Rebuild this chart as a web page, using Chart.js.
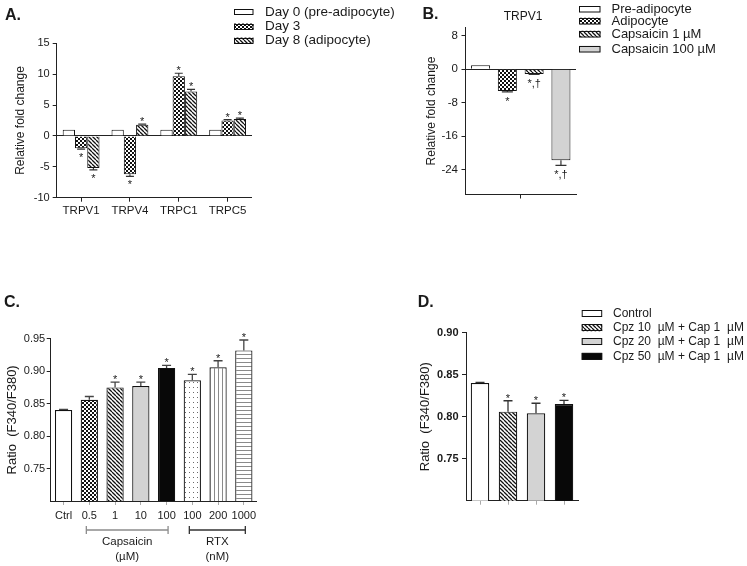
<!DOCTYPE html>
<html><head><meta charset="utf-8">
<script src="https://cdn.jsdelivr.net/npm/chart.js@4.4.1/dist/chart.umd.min.js"></script>
<style>
html,body{margin:0;padding:0;background:#fff;}
#wrap{position:relative;width:747px;height:566px;overflow:hidden;background:#fff;}
canvas{position:absolute;left:0;top:0;}
</style></head>
<body><div id="wrap">
<canvas id="cA" width="747" height="566"></canvas>
<canvas id="cB" width="747" height="566"></canvas>
<canvas id="cC" width="747" height="566"></canvas>
<canvas id="cD" width="747" height="566"></canvas>
</div>
<script>
// ---------- DATA ----------
const catsA = ['TRPV1', 'TRPV4', 'TRPC1', 'TRPC5'];
const seriesA = ['Day 0 (pre-adipocyte)', 'Day 3', 'Day 8 (adipocyte)'];
const day0 = [1, 1, 1, 1];
const day3 = [-2.0, -6.2, 9.65, 2.5];
const day8 = [-5.2, 1.8, 7.2, 2.75];
const errDay0 = [0, 0, 0, 0];
const errDay3 = [0.15, 0.35, 0.5, 0.15];
const errDay8 = [0.3, 0.12, 0.33, 0.12];
const sigDay0 = ['', '', '', ''];
const sigDay3 = ['*', '*', '*', '*'];
const sigDay8 = ['*', '*', '*', '*'];
const ticksA = [15, 10, 5, 0, -5, -10];

const catsB = ['TRPV1'];
const seriesB = ['Pre-adipocyte', 'Adipocyte', 'Capsaicin 1 \u00b5M', 'Capsaicin 100 \u00b5M'];
const valuesB = [1, -5.2, -1.1, -21.8];
const errB = [0, 0.2, 0.1, 1.2];
const sigB = ['', '*', '*,\u2020', '*,\u2020'];
const ticksB = [8, 0, -8, -16, -24];

const catsC = ['Ctrl', '0.5', '1', '10', '100', '100', '200', '1000'];
const valuesC = [0.840, 0.856, 0.875, 0.877, 0.905, 0.886, 0.906, 0.932];
const errC = [0.001, 0.005, 0.008, 0.006, 0.004, 0.009, 0.010, 0.016];
const sigC = ['', '', '*', '*', '*', '*', '*', '*'];
const ticksC = [0.95, 0.90, 0.85, 0.80, 0.75];
const groupNamesC = ['Capsaicin', 'RTX'];
const groupUnitsC = ['(\u00b5M)', '(nM)'];
const groupStartC = [1, 5];
const groupEndC = [4, 7];

const catsD = ['Control', 'Cpz 10  \u00b5M + Cap 1  \u00b5M', 'Cpz 20  \u00b5M + Cap 1  \u00b5M', 'Cpz 50  \u00b5M + Cap 1  \u00b5M'];
const valuesD = [0.840, 0.806, 0.804, 0.815];
const errD = [0.0008, 0.013, 0.012, 0.0045];
const sigD = ['', '*', '*', '*'];
const ticksD = [0.90, 0.85, 0.80, 0.75];

// ---------- STYLE ----------
const FAM = "'Liberation Sans', Arial, Helvetica, sans-serif";
Chart.defaults.font.family = FAM;
Chart.defaults.color = '#1a1a1a';
const AX = '#222';
const TXT = '#1a1a1a';

function makeFill(kind) {
  if (kind === 'white') return '#ffffff';
  if (kind === 'gray') return '#d3d3d3';
  if (kind === 'black') return '#080808';
  const c = document.createElement('canvas');
  const g = c.getContext('2d');
  let w = 4, h = 4;
  if (kind === 'dots') { w = 4; h = 5; }
  c.width = w; c.height = h;
  g.fillStyle = '#fff'; g.fillRect(0, 0, w, h);
  if (kind === 'checker') { g.fillStyle = '#111'; g.fillRect(0, 0, 2, 2); g.fillRect(2, 2, 2, 2); }
  if (kind === 'hatch') {
    g.strokeStyle = '#111'; g.lineWidth = 1.3; g.beginPath();
    for (const k of [-4, 0, 4]) { g.moveTo(k, 0); g.lineTo(k + 4, 4); }
    g.stroke();
  }
  if (kind === 'dots') { g.fillStyle = '#6a6a6a'; g.fillRect(1, 2, 1, 1); }
  if (kind === 'vlines') { g.fillStyle = '#8a8a8a'; g.fillRect(2, 0, 1, h); }
  if (kind === 'hlines') { g.fillStyle = '#8a8a8a'; g.fillRect(0, 2, w, 1); }
  return document.createElement('canvas').getContext('2d').createPattern(c, 'repeat');
}

// ---------- PLUGINS ----------
const errPlugin = {
  id: 'errbars',
  afterDatasetsDraw(chart, args, o) {
    const ctx = chart.ctx, ys = chart.scales.y;
    ctx.save();
    chart.data.datasets.forEach((ds, di) => {
      const meta = chart.getDatasetMeta(di);
      meta.data.forEach((bar, i) => {
        const v = ds.data[i], e = ds.errors[i], s = ds.sig[i];
        const up = v >= o.base;
        const yEnd = ys.getPixelForValue(up ? v + e : v - e);
        if (e > 0) {
          ctx.strokeStyle = o.color; ctx.lineWidth = o.width;
          ctx.beginPath();
          ctx.moveTo(bar.x, bar.y); ctx.lineTo(bar.x, yEnd);
          ctx.moveTo(bar.x - o.cap / 2, yEnd); ctx.lineTo(bar.x + o.cap / 2, yEnd);
          ctx.stroke();
        }
        if (s) {
          ctx.fillStyle = TXT; ctx.font = o.font; ctx.textAlign = 'center'; ctx.textBaseline = 'alphabetic';
          ctx.fillText(s, bar.x, up ? yEnd + o.upShift : yEnd + o.downShift);
        }
      });
    });
    ctx.restore();
  }
};

const panelPlugin = {
  id: 'panel',
  afterDraw(chart, args, o) {
    const ctx = chart.ctx;
    ctx.save();
    if (o.legend) {
      const L = o.legend;
      let items;
      if (L.source === 'datasets') items = chart.data.datasets.map(d => ({ label: d.label, fill: d.backgroundColor }));
      else items = chart.data.labels.map((l, i) => ({ label: l, fill: chart.data.datasets[0].backgroundColor[i] }));
      items.forEach((it, i) => {
        const y = L.ys[i];
        const bh = L.boxH;
        ctx.fillStyle = it.fill;
        ctx.fillRect(L.x, y - bh / 2, L.boxW, bh);
        ctx.strokeStyle = '#111'; ctx.lineWidth = 1;
        ctx.strokeRect(L.x + 0.5, Math.round(y - bh / 2) + 0.5, L.boxW - 1, bh - 1);
        ctx.fillStyle = TXT; ctx.font = L.font; ctx.textAlign = 'left'; ctx.textBaseline = 'middle';
        ctx.fillText(it.label, L.textX, y);
      });
    }
    if (o.brackets) {
      const B = o.brackets, xs = chart.scales.x;
      B.starts.forEach((st, i) => {
        const x1 = xs.getPixelForValue(st) + B.dx1, x2 = xs.getPixelForValue(B.ends[i]) + B.dx2;
        ctx.strokeStyle = B.colors[i]; ctx.lineWidth = 1.3;
        ctx.beginPath();
        ctx.moveTo(x1, B.y); ctx.lineTo(x2, B.y);
        ctx.moveTo(x1, B.y - 4); ctx.lineTo(x1, B.y + 4);
        ctx.moveTo(x2, B.y - 4); ctx.lineTo(x2, B.y + 4);
        ctx.stroke();
        ctx.fillStyle = TXT; ctx.font = B.font; ctx.textAlign = 'center'; ctx.textBaseline = 'middle';
        ctx.fillText(B.names[i], (x1 + x2) / 2, B.nameY);
        ctx.fillText(B.units[i], (x1 + x2) / 2, B.unitY);
      });
    }
    (o.texts || []).forEach(t => {
      ctx.fillStyle = TXT; ctx.font = t.font; ctx.textAlign = t.align || 'left'; ctx.textBaseline = t.baseline || 'alphabetic';
      ctx.fillText(t.text, t.x, t.y);
    });
    ctx.restore();
  }
};

function yAxis(p) {
  const tk = p.ticks.slice().sort((a, b) => a - b);
  return {
    min: p.min, max: p.max,
    afterBuildTicks: s => { s.ticks = tk.map(v => ({ value: v })); },
    afterFit: s => { s.width = p.W; },
    border: { display: true, color: AX, width: 1 },
    grid: {
      display: true, drawOnChartArea: !!p.zeroLine, drawTicks: true, tickLength: 4, tickColor: AX, tickWidth: 1, lineWidth: 1,
      color: c => (p.zeroLine && c.tick && c.tick.value === 0) ? AX : 'rgba(0,0,0,0)'
    },
    ticks: { font: p.tickFont, color: TXT, padding: p.tickPad, callback: v => p.fmt(v), autoSkip: false },
    title: { display: true, text: p.title, font: { size: p.titleSize }, color: TXT, padding: 0 }
  };
}
function xAxis(p) {
  return {
    offset: true,
    afterFit: s => { s.height = p.H; },
    border: { display: true, color: AX, width: 1 },
    grid: { display: true, offset: false, drawOnChartArea: false, drawTicks: true, tickLength: 4, tickColor: p.tickColor, color: 'rgba(0,0,0,0)' },
    ticks: { display: p.show, font: p.font, color: TXT, padding: p.pad, maxRotation: 0, minRotation: 0, autoSkip: false }
  };
}
function pad(L, T, R, Bm, W, H) {
  return { left: L - W, top: T, right: 747 - R, bottom: 566 - Bm - H };
}
const base = { responsive: false, animation: false, events: [] };

// ---------- PANEL A ----------
const fillsA = [makeFill('white'), makeFill('checker'), makeFill('hatch')];
new Chart(document.getElementById('cA'), {
  type: 'bar',
  data: {
    labels: catsA,
    datasets: [
      { label: seriesA[0], data: day0, errors: errDay0, sig: sigDay0 },
      { label: seriesA[1], data: day3, errors: errDay3, sig: sigDay3 },
      { label: seriesA[2], data: day8, errors: errDay8, sig: sigDay8 }
    ].map((d, i) => Object.assign(d, { backgroundColor: fillsA[i], borderColor: '#111', borderWidth: 1, categoryPercentage: 0.754, barPercentage: 1.0 }))
  },
  options: Object.assign({}, base, {
    layout: { padding: pad(56.7, 43.3, 252, 197.7, 43, 30) },
    scales: {
      x: xAxis({ H: 30, show: true, font: { size: 11.5 }, pad: 2, tickColor: AX }),
      y: yAxis({ min: -10, max: 15, ticks: ticksA, W: 43, tickFont: { size: 11 }, tickPad: 3, fmt: v => String(v), title: 'Relative fold change', titleSize: 12, zeroLine: true })
    },
    plugins: {
      legend: { display: false }, tooltip: { enabled: false },
      errbars: { base: 0, color: '#333', width: 1.2, cap: 8, font: '11px ' + FAM, upShift: 1, downShift: 12 },
      panel: {
        legend: { source: 'datasets', x: 234, boxW: 19.5, boxH: 6, ys: [12.2, 26.5, 40.5], textX: 265, font: '13.5px ' + FAM },
        texts: [{ text: 'A.', x: 5, y: 20, font: 'bold 16px ' + FAM }]
      }
    }
  }),
  plugins: [errPlugin, panelPlugin]
});

// ---------- PANEL B ----------
const fillsB = [makeFill('white'), makeFill('checker'), makeFill('hatch'), makeFill('gray')];
new Chart(document.getElementById('cB'), {
  type: 'bar',
  data: {
    labels: catsB,
    datasets: seriesB.map((s, i) => ({
      label: s, data: [valuesB[i]], errors: [errB[i]], sig: [sigB[i]],
      backgroundColor: fillsB[i], borderColor: '#111', borderWidth: 1, categoryPercentage: 0.97, barPercentage: 0.71
    }))
  },
  options: Object.assign({}, base, {
    layout: { padding: pad(465.5, 27.6, 576, 194.5, 41, 20) },
    scales: {
      x: xAxis({ H: 20, show: false, font: { size: 11 }, pad: 2, tickColor: AX }),
      y: yAxis({ min: -30, max: 10, ticks: ticksB, W: 41, tickFont: { size: 11.5 }, tickPad: 3.5, fmt: v => String(v), title: 'Relative fold change', titleSize: 12, zeroLine: true })
    },
    plugins: {
      legend: { display: false }, tooltip: { enabled: false },
      errbars: { base: 0, color: '#333', width: 1.2, cap: 11, font: '11px ' + FAM, upShift: 1, downShift: 13 },
      panel: {
        legend: { source: 'datasets', x: 579, boxW: 21.5, boxH: 6.5, ys: [9, 21, 34, 49], textX: 611.5, font: '13px ' + FAM },
        texts: [
          { text: 'B.', x: 422.5, y: 18.5, font: 'bold 16px ' + FAM },
          { text: catsB[0], x: 523, y: 16.7, font: '12px ' + FAM, align: 'center', baseline: 'middle' }
        ]
      }
    }
  }),
  plugins: [errPlugin, panelPlugin]
});

// ---------- PANEL C ----------
const fillsC = ['white', 'checker', 'hatch', 'gray', 'black', 'dots', 'vlines', 'hlines'].map(makeFill);
new Chart(document.getElementById('cC'), {
  type: 'bar',
  data: {
    labels: catsC,
    datasets: [{
      label: 'Ratio', data: valuesC, errors: errC, sig: sigC,
      backgroundColor: fillsC, borderColor: '#111', borderWidth: 1.2, categoryPercentage: 1.0, barPercentage: 0.67
    }]
  },
  options: Object.assign({}, base, {
    layout: { padding: pad(50.7, 338.7, 256.7, 501, 46.5, 30) },
    scales: {
      x: xAxis({ H: 30, show: true, font: { size: 11 }, pad: 4, tickColor: '#aaa' }),
      y: yAxis({ min: 0.70, max: 0.95, ticks: ticksC, W: 46.5, tickFont: { size: 11 }, tickPad: 1.5, fmt: v => v.toFixed(2), title: 'Ratio  (F340/F380)', titleSize: 13, zeroLine: false })
    },
    plugins: {
      legend: { display: false }, tooltip: { enabled: false },
      errbars: { base: 0.70, color: '#444', width: 1.3, cap: 9, font: '11px ' + FAM, upShift: 1, downShift: 12 },
      panel: {
        brackets: { starts: groupStartC, ends: groupEndC, names: groupNamesC, units: groupUnitsC, colors: ['#8c8c8c', '#333'], dx1: -3, dx2: 1.5, y: 530, nameY: 541.7, unitY: 556.7, font: '11.5px ' + FAM },
        texts: [{ text: 'C.', x: 4, y: 306.7, font: 'bold 16px ' + FAM }]
      }
    }
  }),
  plugins: [errPlugin, panelPlugin]
});

// ---------- PANEL D ----------
const fillsD = ['white', 'hatch', 'gray', 'black'].map(makeFill);
new Chart(document.getElementById('cD'), {
  type: 'bar',
  data: {
    labels: catsD,
    datasets: [{
      label: 'Ratio', data: valuesD, errors: errD, sig: sigD,
      backgroundColor: fillsD, borderColor: '#111', borderWidth: 1.2, categoryPercentage: 1.0, barPercentage: 0.66
    }]
  },
  options: Object.assign({}, base, {
    layout: { padding: pad(466, 332.7, 578, 500.7, 48.8, 20) },
    scales: {
      x: xAxis({ H: 20, show: false, font: { size: 11 }, pad: 2, tickColor: '#aaa' }),
      y: yAxis({ min: 0.70, max: 0.90, ticks: ticksD, W: 48.8, tickFont: { size: 11, weight: 'bold' }, tickPad: 3.5, fmt: v => v.toFixed(2), title: 'Ratio  (F340/F380)', titleSize: 13, zeroLine: false })
    },
    plugins: {
      legend: { display: false }, tooltip: { enabled: false },
      errbars: { base: 0.70, color: '#333', width: 1.3, cap: 9, font: '11px ' + FAM, upShift: 1, downShift: 12 },
      panel: {
        legend: { source: 'labels', x: 581.7, boxW: 20.5, boxH: 7, ys: [313.8, 327.8, 341.6, 356.3], textX: 613, font: '12px ' + FAM },
        texts: [{ text: 'D.', x: 417.7, y: 306.7, font: 'bold 16px ' + FAM }]
      }
    }
  }),
  plugins: [errPlugin, panelPlugin]
});
</script>
</body></html>
